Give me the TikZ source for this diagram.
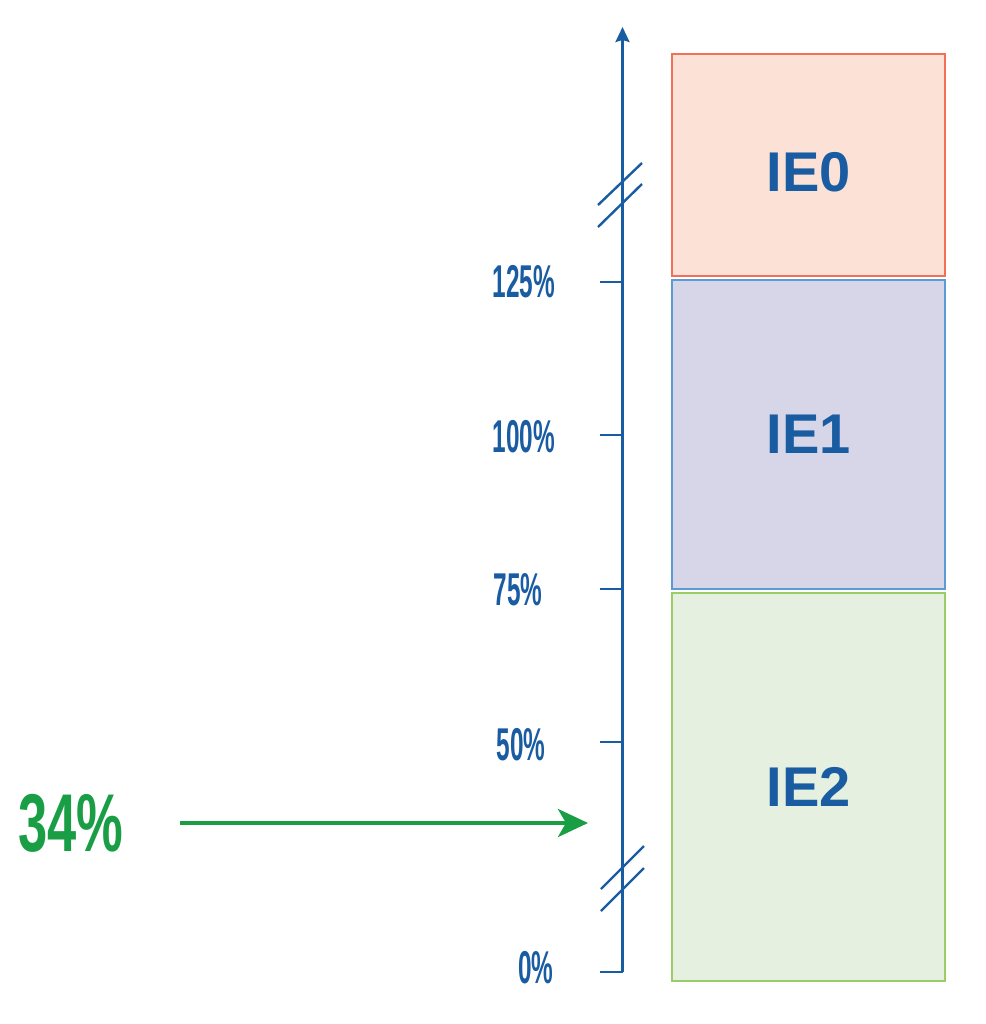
\documentclass[tikz,border=0pt]{standalone}
\usepackage{fontspec}
\setmainfont{Liberation Sans}
\newfontfamily\narrowfont{Liberation Sans Bold}[FakeStretch=0.53]
\newfontfamily\narrowwide{Liberation Sans Bold}[FakeStretch=0.64]
\usetikzlibrary{arrows.meta,positioning}
\definecolor{axisblue}{HTML}{1A5CA2}
\definecolor{iered}{HTML}{F27059}
\definecolor{iefillred}{HTML}{FCE2D6}
\definecolor{ieblue}{HTML}{5B9BD5}
\definecolor{iefillblue}{HTML}{D6D6E8}
\definecolor{iegreen}{HTML}{9CCC65}
\definecolor{iefillgreen}{HTML}{E6F0E0}
\definecolor{valgreen}{HTML}{1A9E45}

\begin{document}
\begin{tikzpicture}[
    x=0.5pt, y=-0.5pt,
    box/.style={rectangle, draw, line width=0.8pt, minimum width=136.5pt, inner sep=0pt, font=\bfseries\fontsize{28}{28}\selectfont, text=axisblue},
    axis/.style={draw=axisblue, line width=1.2pt},
    pct/.style={font=\narrowfont\fontsize{23}{23}\selectfont, text=axisblue, inner sep=0pt}
]
    \useasboundingbox (0,0) rectangle (986,1024);

    % Boxes
    \node[box, draw=iered, fill=iefillred, minimum height=111pt, text height=27pt] (ie0) at (808.5,165) {IE0};
    \node[box, draw=ieblue, fill=iefillblue, minimum height=154.5pt] (ie1) at (808.5,434.5) {IE1};
    \node[box, draw=iegreen, fill=iefillgreen, minimum height=194pt] (ie2) at (808.5,787) {IE2};

    % Axis
    \coordinate (base) at (622.5,972);
    \coordinate (top) at (622.5,27);
    \draw[axis, -{Stealth[length=7.5pt, width=7pt, inset=1pt]}] (base) -- (top);
    \foreach \t/\ly/\lx/\lab in {282/282/524/125, 435/437/524/100, 589/590/518/75, 742/745/521/50, 972/968/536/0} {
        \draw[axis] (600,\t) -- (622.5,\t);
        \node[pct] (pct\lab) at (\lx,\ly) {\lab\%};
    }

    % Breaks
    \draw[axis] (598,205) -- (642,163);
    \draw[axis] (598,227) -- (642,184);
    \draw[axis] (601,889) -- (644,846);
    \draw[axis] (601,911) -- (644,868);

    % Value
    \node[font=\narrowwide\fontsize{41}{41}\selectfont, text=valgreen, inner sep=0pt] (val) at (71,823) {34\%};
    \coordinate (start) at (180,823);
    \coordinate (mark) at (588,823);
    \draw[valgreen, line width=2.2pt, -{Stealth[length=15pt, width=14pt, inset=4pt]}] (start) -- (mark);
\end{tikzpicture}
\end{document}
